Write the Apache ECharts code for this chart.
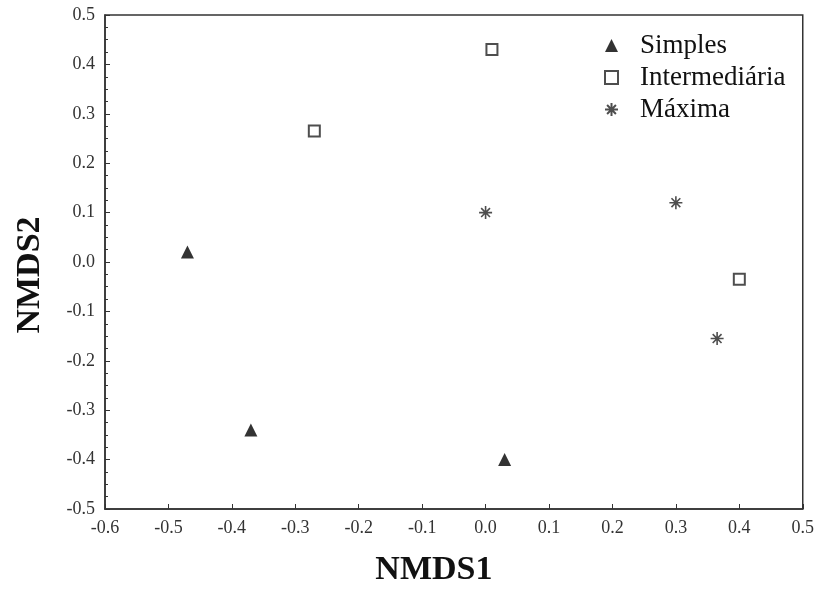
<!DOCTYPE html>
<html>
<head>
<meta charset="utf-8">
<script src="https://cdn.jsdelivr.net/npm/echarts@6/dist/echarts.min.js"></script>
<style>
  html, body { margin: 0; padding: 0; background: #fff; }
  #container { width: 817px; height: 592px; }
</style>
</head>
<body>
<div id="container"></div>
<script>
// dados NMDS
var simplesX = [-0.47, -0.37, 0.03];
var simplesY = [0.02, -0.34, -0.40];
var interX = [-0.27, 0.01, 0.40];
var interY = [0.265, 0.43, -0.035];
var maximaX = [0.00, 0.30, 0.365];
var maximaY = [0.10, 0.12, -0.155];

var serif = '"Liberation Serif", "Times New Roman", serif';
var asterisco = 'path://M5 0L5 10M0 5L10 5M1.6 1.6L8.4 8.4M8.4 1.6L1.6 8.4';

function pares(xs, ys) {
   var out = [];
   for (var i = 0; i < xs.length; i++) out.push([xs[i], ys[i]]);
   return out;
}

var dom = document.getElementById('container');
var myChart = echarts.init(dom, null, { renderer: 'canvas' });

var option = {
   backgroundColor: '#fff',
   animation: false,
   grid: {
      left: 105, right: 14, top: 15, bottom: 83,
      show: true, borderColor: '#333', borderWidth: 1.5
   },
   legend: {
      orient: 'vertical',
      left: 599, top: 27,
      itemGap: 5,
      itemWidth: 13, itemHeight: 13,
      data: ['Simples', 'Intermediária', 'Máxima'],
      textStyle: { fontFamily: serif, fontSize: 27, color: '#111', padding: [0, 0, 0, 17] }
   },
   xAxis: {
      type: 'value',
      min: -0.6, max: 0.5, interval: 0.1,
      name: 'NMDS1',
      nameLocation: 'middle',
      nameGap: 44,
      nameTextStyle: { fontFamily: serif, fontSize: 34, fontWeight: 'bold', color: '#111', padding: [0, 40, 0, 0] },
      axisLine: { onZero: false, lineStyle: { color: '#333', width: 1.5 } },
      axisTick: { inside: true, length: 5, lineStyle: { color: '#333' } },
      axisLabel: {
         fontFamily: serif, fontSize: 18, color: '#333', margin: 10,
         formatter: function (v) { return v.toFixed(1); }
      },
      splitLine: { show: false }
   },
   yAxis: {
      type: 'value',
      min: -0.5, max: 0.5, interval: 0.1,
      name: 'NMDS2',
      nameLocation: 'middle',
      nameGap: 58,
      nameTextStyle: { fontFamily: serif, fontSize: 34, fontWeight: 'bold', color: '#111', padding: [0, 26, 0, 0] },
      axisLine: { onZero: false, lineStyle: { color: '#333', width: 1.5 } },
      axisTick: { inside: true, length: 5, lineStyle: { color: '#333' } },
      minorTick: { show: true, splitNumber: 4, length: 3, lineStyle: { color: '#333' } },
      axisLabel: {
         fontFamily: serif, fontSize: 18, color: '#333', margin: 10,
         formatter: function (v) { return v.toFixed(1); }
      },
      splitLine: { show: false }
   },
   series: [
      {
         name: 'Simples',
         type: 'scatter',
         symbol: 'triangle',
         symbolSize: 13,
         itemStyle: { color: '#000' },
         data: pares(simplesX, simplesY)
      },
      {
         name: 'Intermediária',
         type: 'scatter',
         symbol: 'rect',
         symbolSize: 11,
         itemStyle: { color: '#fff', borderColor: '#222', borderWidth: 2 },
         data: pares(interX, interY)
      },
      {
         name: 'Máxima',
         type: 'scatter',
         symbol: asterisco,
         symbolSize: 13,
         itemStyle: { color: 'transparent', borderColor: '#222', borderWidth: 1.6 },
         data: pares(maximaX, maximaY)
      }
   ]
};

myChart.setOption(option);
window.addEventListener('resize', myChart.resize);
</script>
</body>
</html>
